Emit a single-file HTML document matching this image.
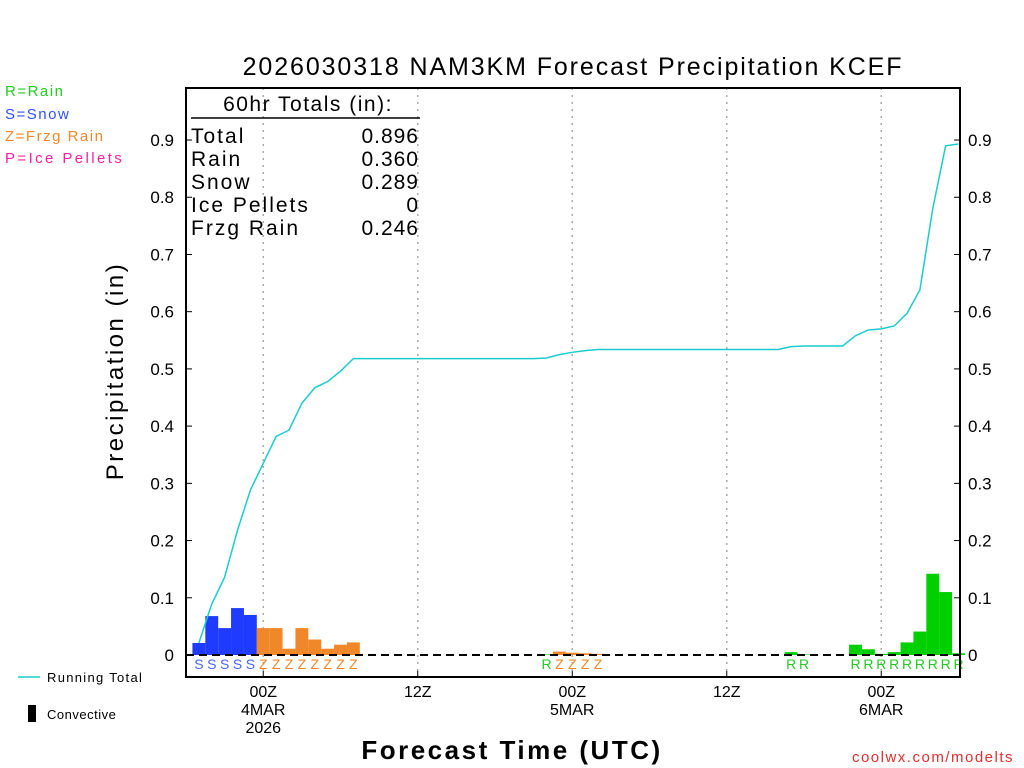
<!DOCTYPE html>
<html><head><meta charset="utf-8"><style>
body{margin:0;background:#fff;width:1024px;height:768px;overflow:hidden}
svg{display:block;font-family:"Liberation Sans",sans-serif}
</style></head><body>
<svg id="c" width="1024" height="768"></svg>
<script>
const hours=[1,2,3,4,5,6,7,8,9,10,11,12,13,28,29,30,31,32,47,48,52,53,54,55,56,57,58,59,60];
const amounts=[0.021,0.068,0.047,0.082,0.070,0.047,0.047,0.011,0.047,0.027,0.011,0.018,0.022,0.001,0.006,0.004,0.003,0.002,0.005,0.001,0.018,0.010,0.002,0.005,0.022,0.041,0.142,0.110,0.003];
const ptypes=["S","S","S","S","S","Z","Z","Z","Z","Z","Z","Z","Z","R","Z","Z","Z","Z","R","R","R","R","R","R","R","R","R","R","R"];
const yTicks=[0,0.1,0.2,0.3,0.4,0.5,0.6,0.7,0.8,0.9];
const xTickHours=[6,18,30,42,54];
const xTickLabels=[["00Z","4MAR","2026"],["12Z"],["00Z","5MAR"],["12Z"],["00Z","6MAR"]];
const totalsLabels=["Total","Rain","Snow","Ice Pellets","Frzg Rain"];
const totalsValues=["0.896","0.360","0.289","0","0.246"];

const NS="http://www.w3.org/2000/svg",svg=document.getElementById('c');
const X0=186,X1=960,Y0=88,Y1=677;
const xs=h=>186+h*12.875, ys=v=>655-v*572.2;
const col={S:"#1f3bff",Z:"#f0882a",R:"#00d000",P:"#ff1f9f"};
const lcol={S:"#4a64ff",Z:"#f0882a",R:"#22cc22",P:"#ff1f9f"};
function el(t,a,p){const e=document.createElementNS(NS,t);for(const k in a)e.setAttribute(k,a[k]);(p||svg).appendChild(e);return e;}
function tx(x,y,s,a){const e=el('text',Object.assign({x:x,y:y},a));e.textContent=s;return e;}

xTickHours.forEach((h,i)=>{
 const g=el('line',{x1:xs(h),x2:xs(h),y1:Y0,y2:Y1,stroke:"#aaa","stroke-dasharray":"2,5","stroke-width":1.5});
 
 
 xTickLabels[i].forEach((s,j)=>{const t=tx(xs(h),697+j*18,s,{"font-size":16,"text-anchor":"middle",fill:"#000"});
  
  });
 el('line',{x1:xs(h),x2:xs(h),y1:Y1,y2:Y1-6,stroke:"#000"});
});
hours.forEach((h,i)=>{
 const b=el('rect',{x:xs(h)-6.45,y:ys(amounts[i]),width:12.9,height:655-ys(amounts[i]),fill:col[ptypes[i]]});
 
 
 const t=tx(xs(h),669,ptypes[i],{"font-size":14,"text-anchor":"middle",fill:lcol[ptypes[i]]});
 
 
});
el('line',{x1:X0,x2:X1,y1:655,y2:655,stroke:"#000","stroke-width":2,"stroke-dasharray":"8,5"});
let cum=0,pts=[];
for(let h=1;h<=60;h++){const i=hours.indexOf(h);if(i>=0)cum+=amounts[i];pts.push(xs(h)+","+ys(cum));}
const ln=el('polyline',{points:pts.join(" "),fill:"none",stroke:"#1ccccc","stroke-width":1.5});


const fr=el('rect',{x:X0,y:Y0,width:X1-X0,height:Y1-Y0,fill:"none",stroke:"#000","stroke-width":2});


yTicks.forEach(v=>{
 const y=ys(v);
 el('line',{x1:X0,x2:X0+6,y1:y,y2:y,stroke:"#000"});
 el('line',{x1:X1,x2:X1-6,y1:y,y2:y,stroke:"#000"});
 const s=v===0?"0":v.toFixed(1);
 const a=tx(174,y+6,s,{"font-size":17,"text-anchor":"end"});
 
 
 const b=tx(968,y+6,s,{"font-size":17});
 
 
});
const tt=tx(308,111,"60hr Totals (in):",{"font-size":21,"text-anchor":"middle","letter-spacing":"1.5"});


el('line',{x1:191,x2:420,y1:118,y2:118,stroke:"#000","stroke-width":1.5});
totalsLabels.forEach((s,i)=>{
 const a=tx(191,143+i*23,s,{"font-size":21,"letter-spacing":"2"});
 
 
 const b=tx(419,143+i*23,totalsValues[i],{"font-size":21,"text-anchor":"end","letter-spacing":"1"});
 
 
});
</script>
<svg width="1024" height="768" style="position:absolute;left:0;top:0;font-family:'Liberation Sans',sans-serif">
 <text x="573" y="75" font-size="25" text-anchor="middle" letter-spacing="1.9">2026030318 NAM3KM Forecast Precipitation KCEF</text>
 <text transform="translate(123,371) rotate(-90)" font-size="24" text-anchor="middle" letter-spacing="2.5">Precipitation (in)</text>
 <text x="512" y="759" font-size="26" text-anchor="middle" letter-spacing="2.5" font-weight="bold">Forecast Time (UTC)</text>
 <text x="1014" y="762" font-size="15" text-anchor="end" fill="#e03030" letter-spacing="1.5">coolwx.com/modelts</text>
 <text x="5" y="96" font-size="15" fill="#22cc22" letter-spacing="1.5">R=Rain</text>
 <text x="5" y="119" font-size="15" fill="#3050ff" letter-spacing="1.5">S=Snow</text>
 <text x="5" y="141" font-size="15" fill="#f0882a" letter-spacing="1.5">Z=Frzg Rain</text>
 <text x="5" y="163" font-size="15" fill="#ff1f9f" letter-spacing="2.4">P=Ice Pellets</text>
 <line x1="18" x2="40" y1="677" y2="677" stroke="#1ccccc" stroke-width="1.5"/>
 <text x="47" y="682" font-size="13" letter-spacing="1.3">Running Total</text>
 <rect x="28" y="705" width="8" height="17" fill="#000"/>
 <text x="47" y="719" font-size="13" letter-spacing="0.5">Convective</text>
</svg>
</body></html>
